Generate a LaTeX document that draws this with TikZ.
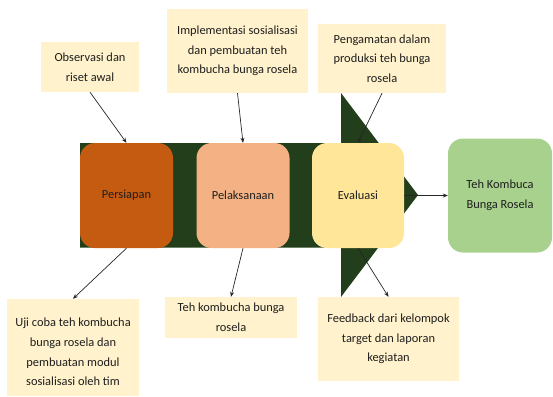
\documentclass[tikz,border=0pt]{standalone}
\usepackage{fontspec}
\setmainfont{Carlito}
\usetikzlibrary{arrows.meta}
\definecolor{fishgreen}{RGB}{35,62,26}
\definecolor{notebg}{RGB}{255,242,204}
\definecolor{prepcol}{RGB}{197,90,17}
\definecolor{execcol}{RGB}{244,177,131}
\definecolor{evalcol}{RGB}{255,230,153}
\definecolor{finalcol}{RGB}{169,209,142}
\definecolor{txt}{RGB}{30,30,30}
\begin{document}
\begin{tikzpicture}[x=1pt,y=-1pt,
  every node/.style={font=\fontsize{12.4}{19.6}\selectfont, text=txt, align=center, inner sep=0pt},
  notebox/.style={fill=notebg},
  stagebox/.style={rounded corners=15pt, minimum width=93pt, minimum height=105pt},
  conn/.style={draw=black!85, line width=0.7pt, -{Stealth[length=5pt,width=4pt]}}
]
\useasboundingbox (0,0) rectangle (553,396);
% fishbone body
\fill[fishgreen] (80,143) -- (341,143) -- (341,93) -- (418,195) -- (341,297) -- (341,247.5) -- (80,247.5) -- cycle;
% stages
\node[stagebox, fill=prepcol] (pers) at (126.5,195.5) {Persiapan};
\node[stagebox, fill=execcol] (pel) at (243,195.5) {Pelaksanaan};
\node[stagebox, fill=evalcol, minimum width=92pt] (eval) at (358,195.5) {Evaluasi};
\node[stagebox, fill=finalcol, minimum width=104pt, minimum height=114pt] (final) at (500,195.5) {Teh Kombuca\\Bunga Rosela};
% notes
\node[notebox, minimum width=98pt, minimum height=50pt] (obs) at (90,67) {Observasi dan\\riset awal};
\node[notebox, minimum width=141pt, minimum height=84pt] (impl) at (237.5,51) {Implementasi sosialisasi\\dan pembuatan teh\\kombucha bunga rosela};
\node[notebox, minimum width=128pt, minimum height=69pt] (peng) at (382,58.5) {Pengamatan dalam\\produksi teh bunga\\rosela};
\node[notebox, minimum width=132pt, minimum height=97pt] (uji) at (73,347.5) {};
\node (ujitext) at (73,352) {Uji coba teh kombucha\\bunga rosela dan\\pembuatan modul\\sosialisasi oleh tim};
\node[notebox, minimum width=132pt, minimum height=41pt] (tehk) at (231,317.5) {Teh kombucha bunga\\rosela};
\node[notebox, minimum width=141pt, minimum height=84pt] (feed) at (388.5,339) {Feedback dari kelompok\\target dan laporan\\kegiatan};
% connectors
\draw[conn] (obs.south) -- (pers.north);
\draw[conn] (impl.south) -- (pel.north);
\draw[conn] (peng.south) -- (eval.north);
\draw[conn] (pers.south) -- (uji.north);
\draw[conn] (pel.south) -- (tehk.north);
\draw[conn] (eval.south) -- (feed.north);
\draw[conn] (eval.east) -- (final.west);
\end{tikzpicture}
\end{document}
